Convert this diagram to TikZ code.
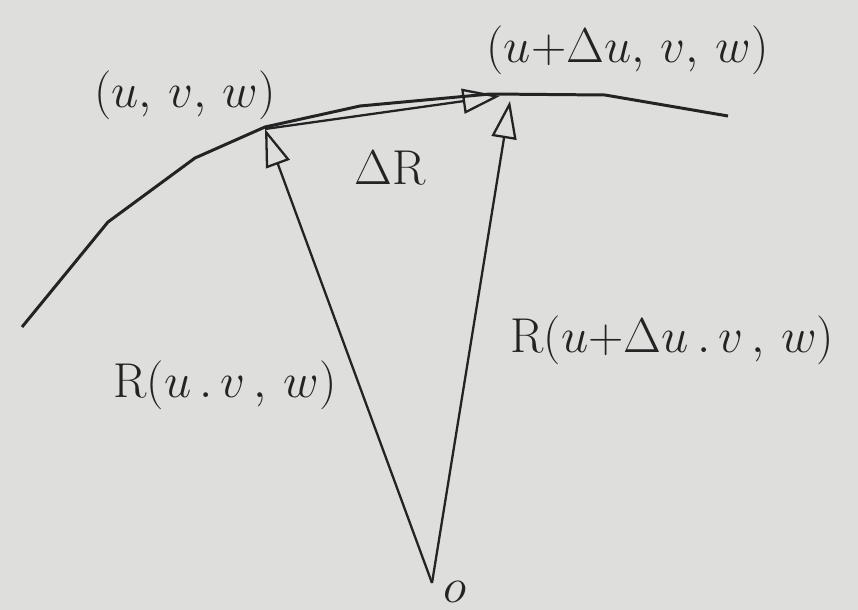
\documentclass[tikz,border=0pt]{standalone}
\usetikzlibrary{arrows.meta}
\definecolor{bg}{RGB}{222,222,220}
\definecolor{ink}{RGB}{35,35,35}
\begin{document}
\begin{tikzpicture}[
  vec/.style={draw=ink, line width=1.3pt, -{Triangle[open, length=0.75cm, width=0.5cm, line width=1.3pt]}},
  curve/.style={draw=ink, line width=1.7pt, line join=round},
  lbl/.style={text=ink, font=\Huge, inner sep=0pt, scale=1.12}
]
\fill[bg] (0,0) rectangle (17.16,12.2);
\useasboundingbox (0,0) rectangle (17.16,12.2);
\coordinate (O) at (8.64,0.54);
\coordinate (P1) at (5.30,9.62);
\coordinate (P2) at (10.0,10.28);
\coordinate (P3) at (10.2,10.18);
\draw[curve] (0.44,5.66) -- (2.16,7.76) -- (3.90,9.04) -- (5.30,9.66) -- (7.20,10.08) -- (9.80,10.32) -- (12.10,10.30) -- (14.56,9.88);
\draw[vec] (O) -- (P1);
\draw[vec] (P1) -- (P2);
\draw[vec] (O) -- (P3);
\node[lbl] (l1) at (3.70,10.30) {$(u,\,v,\,w)$};
\node[lbl] (l2) at (12.55,11.20) {$(u{+}\Delta u,\,v,\,w)$};
\node[lbl] (l3) at (7.80,8.84) {$\Delta\mathrm{R}$};
\node[lbl] (l4) at (4.50,4.50) {$\mathrm{R}(u\,.\,v\,,\,w)$};
\node[lbl] (l5) at (13.45,5.40) {$\mathrm{R}(u{+}\Delta u\,.\,v\,,\,w)$};
\node[lbl] (l6) at (9.10,0.36) {$o$};
\end{tikzpicture}
\end{document}
